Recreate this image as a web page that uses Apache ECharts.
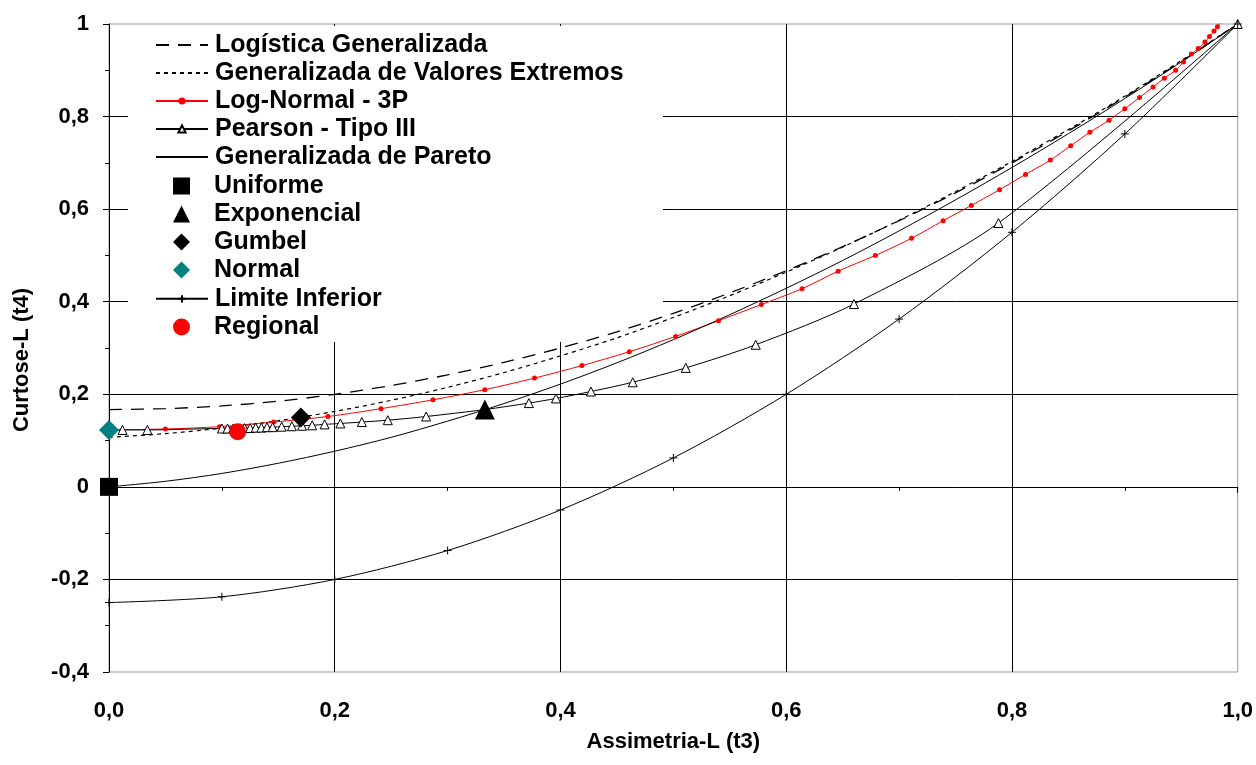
<!DOCTYPE html>
<html>
<head>
<meta charset="utf-8">
<script src="https://cdn.jsdelivr.net/npm/echarts@6/dist/echarts.min.js"></script>
<style>
  html, body { margin: 0; padding: 0; background: #fff; }
  #main { width: 1256px; height: 765px; }
</style>
</head>
<body>
<div id="main"></div>
<script>
// eixo x: Assimetria-L (t3), eixo y: Curtose-L (t4)
var xTicks = [0, 0.2, 0.4, 0.6, 0.8, 1.0];
var yTicks = [-0.4, -0.2, 0, 0.2, 0.4, 0.6, 0.8, 1];

// Logistica Generalizada
var gloT3 = [0, 0.05, 0.1, 0.15, 0.2, 0.25, 0.3, 0.35, 0.4, 0.45, 0.5, 0.55, 0.6, 0.65, 0.7, 0.75, 0.8, 0.85, 0.9, 0.95, 1.0];
var gloT4 = [0.167, 0.169, 0.175, 0.185, 0.200, 0.219, 0.242, 0.269, 0.300, 0.335, 0.375, 0.419, 0.467, 0.519, 0.575, 0.635, 0.700, 0.769, 0.842, 0.919, 1.0];

// Generalizada de Valores Extremos
var gevT3 = [0, 0.05, 0.1, 0.15, 0.2, 0.25, 0.3, 0.35, 0.4, 0.45, 0.5, 0.55, 0.6, 0.65, 0.7, 0.75, 0.8, 0.85, 0.9, 0.95, 1.0];
var gevT4 = [0.107, 0.115, 0.127, 0.143, 0.163, 0.187, 0.215, 0.247, 0.283, 0.322, 0.366, 0.413, 0.464, 0.518, 0.576, 0.638, 0.703, 0.772, 0.844, 0.921, 1.0];

// Log-Normal - 3P
var lnT3 = [0, 0.05, 0.098, 0.146, 0.194, 0.241, 0.287, 0.333, 0.377, 0.419, 0.461, 0.502, 0.540, 0.578, 0.614, 0.646, 0.679, 0.711, 0.739, 0.764, 0.789, 0.812, 0.834, 0.852, 0.869, 0.886, 0.900, 0.913, 0.925, 0.935, 0.945, 0.952, 0.959, 0.965, 0.971, 0.975, 0.979, 0.982, 0.985];
var lnT4 = [0.123, 0.125, 0.130, 0.140, 0.152, 0.169, 0.188, 0.210, 0.235, 0.262, 0.292, 0.325, 0.359, 0.394, 0.428, 0.466, 0.500, 0.537, 0.575, 0.608, 0.642, 0.675, 0.706, 0.737, 0.766, 0.792, 0.817, 0.841, 0.864, 0.883, 0.900, 0.918, 0.935, 0.947, 0.961, 0.973, 0.985, 0.994, 1.003];

// Pearson - Tipo III
var pe3T3 = [0, 0.012, 0.034, 0.100, 0.105, 0.110, 0.115, 0.120, 0.125, 0.130, 0.135, 0.140, 0.145, 0.153, 0.162, 0.171, 0.180, 0.191, 0.205, 0.224, 0.247, 0.281, 0.333, 0.372, 0.396, 0.427, 0.464, 0.511, 0.573, 0.660, 0.788, 1.0];
var pe3T4 = [0.123, 0.123, 0.123, 0.126, 0.126, 0.126, 0.126, 0.127, 0.127, 0.128, 0.128, 0.129, 0.129, 0.130, 0.131, 0.132, 0.133, 0.135, 0.137, 0.140, 0.144, 0.152, 0.167, 0.181, 0.191, 0.206, 0.226, 0.257, 0.307, 0.395, 0.570, 1.0];

// Generalizada de Pareto
var gpaT3 = [0, 0.05, 0.1, 0.15, 0.2, 0.25, 0.3, 0.35, 0.4, 0.45, 0.5, 0.55, 0.6, 0.65, 0.7, 0.75, 0.8, 0.85, 0.9, 0.95, 1.0];
var gpaT4 = [0, 0.012, 0.029, 0.051, 0.077, 0.107, 0.142, 0.180, 0.222, 0.268, 0.318, 0.372, 0.429, 0.489, 0.553, 0.620, 0.690, 0.763, 0.839, 0.918, 1.0];

// Limite Inferior
var limT3 = [0, 0.1, 0.2, 0.3, 0.4, 0.5, 0.6, 0.7, 0.8, 0.9, 1.0];
var limT4 = [-0.250, -0.2375, -0.200, -0.1375, -0.050, 0.0625, 0.200, 0.3625, 0.550, 0.7625, 1.0];

// pontos
var uniforme = [0, 0];
var exponencial = [0.333, 0.167];
var gumbel = [0.170, 0.150];
var normal = [0, 0.123];
var regional = [0.114, 0.119];

function zip(a, b) {
    return a.map(function (v, i) { return [v, b[i]]; });
}
function fmtX(v) {
    return v.toFixed(1).replace('.', ',');
}
function fmtY(v) {
    if (v === 0) return '0';
    if (v === 1) return '1';
    return v.toFixed(1).replace('.', ',');
}

var FONT = '"Liberation Sans", Arial, sans-serif';
var legendText = { fontFamily: FONT, fontWeight: 'bold', fontSize: 25, color: '#000', lineHeight: 28 };
var noSymbol = { opacity: 0 };
var myChart = echarts.init(document.getElementById('main'));

// legendas separadas para poder ter simbolos de tamanhos diferentes
function lineLegend(top, data) {
    return {
        orient: 'vertical', left: 155, top: top, padding: 0, itemGap: 0,
        itemWidth: 52, itemHeight: 9, z: 10, selectedMode: false,
        textStyle: Object.assign({ padding: [0, 0, 0, 2] }, legendText),
        data: data
    };
}
function markLegend(top, data) {
    return {
        orient: 'vertical', left: 173, top: top, padding: 0, itemGap: 0,
        itemWidth: 17, itemHeight: 17, z: 10, selectedMode: false,
        textStyle: Object.assign({ padding: [0, 0, 0, 19] }, legendText),
        data: data
    };
}

var option = {
    animation: false,
    backgroundColor: '#fff',
    grid: {
        left: 109, right: 16, top: 24, bottom: 93,
        show: true, borderColor: '#999', borderWidth: 1
    },
    legend: [
        lineLegend(31, [
            { name: 'Logística Generalizada', itemStyle: noSymbol },
            { name: 'Generalizada de Valores Extremos', itemStyle: noSymbol },
            'Log-Normal - 3P',
            'Pearson - Tipo III',
            { name: 'Generalizada de Pareto', itemStyle: noSymbol }
        ]),
        markLegend(31 + 5 * 28.2, [
            { name: 'Uniforme', icon: 'rect' },
            { name: 'Exponencial', icon: 'triangle' },
            { name: 'Gumbel', icon: 'diamond' },
            { name: 'Normal', icon: 'diamond' }
        ]),
        lineLegend(31 + 9 * 28.2, ['Limite Inferior']),
        markLegend(31 + 10 * 28.2, [{ name: 'Regional', icon: 'circle' }])
    ],
    graphic: [{
        type: 'rect', z: 3, silent: true,
        shape: { x: 128, y: 26, width: 535, height: 316 },
        style: { fill: '#fff' }
    }],
    xAxis: {
        type: 'value', min: 0, max: 1, interval: 0.2,
        name: 'Assimetria-L (t3)', nameLocation: 'middle', nameGap: 59,
        nameTextStyle: { fontFamily: FONT, fontWeight: 'bold', fontSize: 22, color: '#000' },
        axisLine: { lineStyle: { color: '#000', width: 1 } },
        axisTick: { length: 6, lineStyle: { color: '#000' } },
        minorTick: { show: true, splitNumber: 2, length: 4, lineStyle: { color: '#000' } },
        axisLabel: { formatter: fmtX, margin: 28, fontFamily: FONT, fontWeight: 'bold', fontSize: 22, color: '#000' },
        splitLine: { show: true, showMinLine: false, showMaxLine: false, lineStyle: { color: '#000', width: 1 } }
    },
    yAxis: {
        type: 'value', min: -0.4, max: 1, interval: 0.2,
        name: 'Curtose-L (t4)', nameLocation: 'middle', nameGap: 76, nameRotate: 90,
        nameTextStyle: { fontFamily: FONT, fontWeight: 'bold', fontSize: 22, color: '#000', padding: [0, 24, 0, 0] },
        axisLine: { lineStyle: { color: '#000', width: 1 } },
        axisTick: { length: 6, lineStyle: { color: '#000' } },
        minorTick: { show: true, splitNumber: 2, length: 4, lineStyle: { color: '#000' } },
        axisLabel: { formatter: fmtY, margin: 20, fontFamily: FONT, fontWeight: 'bold', fontSize: 22, color: '#000' },
        splitLine: { show: true, showMinLine: false, showMaxLine: false, lineStyle: { color: '#000', width: 1 } }
    },
    series: [
        {
            name: 'Logística Generalizada', type: 'line', smooth: 0.3, symbol: 'none',
            itemStyle: { color: 'rgba(0,0,0,0)' },
            lineStyle: { color: '#000', width: 1.3, type: [13, 9] },
            data: zip(gloT3, gloT4)
        },
        {
            name: 'Generalizada de Valores Extremos', type: 'line', smooth: 0.3, symbol: 'none',
            itemStyle: { color: 'rgba(0,0,0,0)' },
            lineStyle: { color: '#000', width: 1.2, type: [4, 4] },
            data: zip(gevT3, gevT4)
        },
        {
            name: 'Log-Normal - 3P', type: 'line', smooth: 0.3,
            symbol: 'circle', symbolSize: 5,
            itemStyle: { color: '#ff0000' },
            lineStyle: { color: '#ff0000', width: 1 },
            data: zip(lnT3, lnT4)
        },
        {
            name: 'Pearson - Tipo III', type: 'line', smooth: 0.3,
            symbol: 'triangle', symbolSize: 9,
            itemStyle: { color: '#fff', borderColor: '#000', borderWidth: 1 },
            lineStyle: { color: '#000', width: 1 },
            data: zip(pe3T3, pe3T4)
        },
        {
            name: 'Generalizada de Pareto', type: 'line', smooth: 0.3, symbol: 'none',
            itemStyle: { color: 'rgba(0,0,0,0)' },
            lineStyle: { color: '#000', width: 1 },
            data: zip(gpaT3, gpaT4)
        },
        {
            name: 'Uniforme', type: 'scatter', symbol: 'rect', symbolSize: 18, z: 4,
            itemStyle: { color: '#000', opacity: 1 }, data: [uniforme]
        },
        {
            name: 'Exponencial', type: 'scatter', symbol: 'triangle', symbolSize: 20, z: 4,
            itemStyle: { color: '#000', opacity: 1 }, data: [exponencial]
        },
        {
            name: 'Gumbel', type: 'scatter', symbol: 'diamond', symbolSize: 20, z: 4,
            itemStyle: { color: '#000', opacity: 1 }, data: [gumbel]
        },
        {
            name: 'Normal', type: 'scatter', symbol: 'diamond', symbolSize: 20, z: 4,
            itemStyle: { color: '#008080', opacity: 1 }, data: [normal]
        },
        {
            name: 'Limite Inferior', type: 'line', smooth: 0.3,
            symbol: 'path://M0,5H10M5,0V10', symbolSize: 8,
            itemStyle: { color: '#000', borderColor: '#000', borderWidth: 1 },
            lineStyle: { color: '#000', width: 1 },
            data: zip(limT3, limT4)
        },
        {
            name: 'Regional', type: 'scatter', symbol: 'circle', symbolSize: 17, z: 4,
            itemStyle: { color: '#ff0000', opacity: 1 }, data: [regional]
        }
    ]
};
myChart.setOption(option);
</script>
</body>
</html>
